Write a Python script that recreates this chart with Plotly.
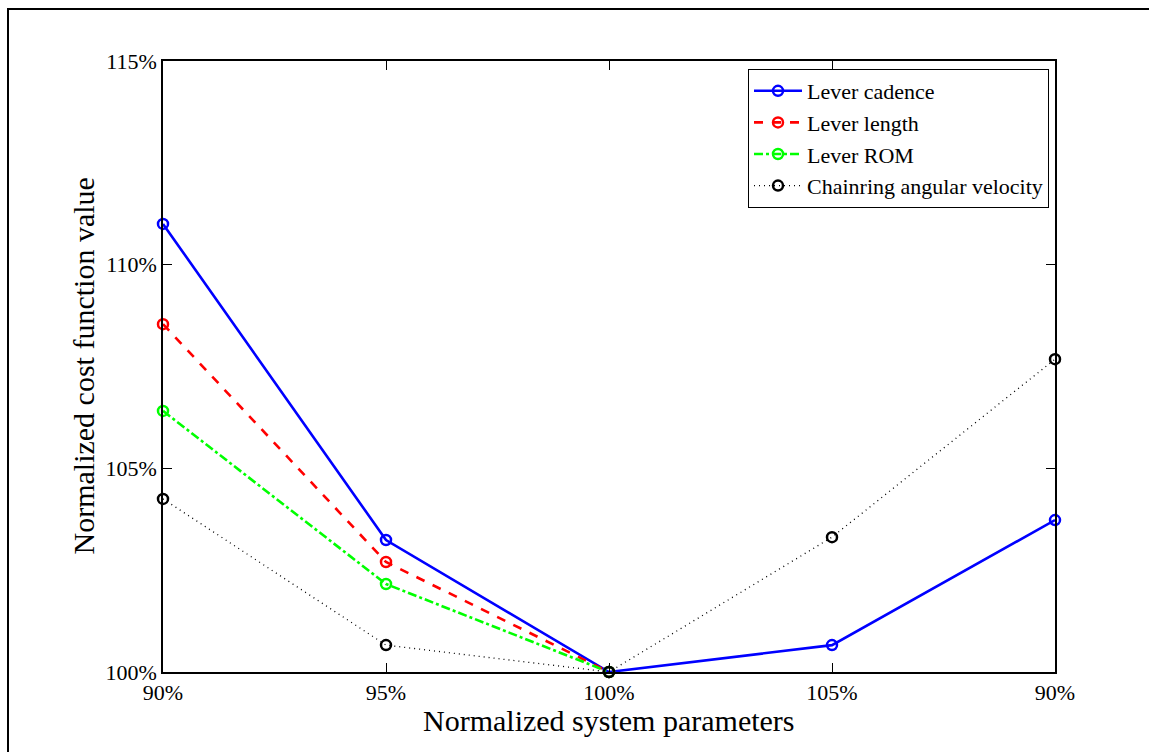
import plotly.graph_objects as go

x_vals = [90, 95, 100, 105, 110]
x_tick_labels = ["90%", "95%", "100%", "105%", "90%"]
y_tick_vals = [100, 105, 110, 115]
y_tick_labels = ["100%", "105%", "110%", "115%"]

lever_cadence = [111.0, 103.24, 100.0, 100.66, 103.73]
lever_length = [108.54, 102.70, 100.0, None, None]
lever_rom = [106.41, 102.16, 100.0, None, None]
chainring = [104.25, 100.66, 100.0, 103.31, 107.68]

series = [
    ("Lever cadence", lever_cadence, "#0000ff", "solid", 2.6),
    ("Lever length", lever_length, "#ff0000", "dash", 2.6),
    ("Lever ROM", lever_rom, "#00ff00", "dashdot", 2.6),
    ("Chainring angular velocity", chainring, "#000000", "1px,4px", 1.3),
]

fig = go.Figure()
for name, ys, color, dash, w in series:
    fig.add_trace(go.Scatter(
        x=x_vals, y=ys, name=name, mode="lines+markers",
        line=dict(color=color, dash=dash, width=w),
        marker=dict(symbol="circle-open", size=10, color=color, line=dict(width=2.5, color=color)),
        connectgaps=False, cliponaxis=False,
    ))

L, R, T, B = 163, 94, 61, 80
W, H = 1149, 752
pw, ph = W - L - R, H - T - B

fig.update_layout(
    width=W, height=H,
    margin=dict(l=L, r=R, t=T, b=B, pad=0),
    paper_bgcolor="white", plot_bgcolor="white",
    font=dict(family="Liberation Serif, Times New Roman, serif", size=22, color="black"),
    showlegend=True,
    legend=dict(
        x=(1049 - L) / pw, y=(H - B - 69) / ph, xanchor="right", yanchor="top",
        bordercolor="black", borderwidth=1, bgcolor="white",
        font=dict(size=22), tracegroupgap=0, itemwidth=48,
    ),
    xaxis=dict(
        range=[90, 110], tickmode="array", tickvals=x_vals, ticktext=x_tick_labels,
        ticks="inside", ticklen=9, tickcolor="black", tickwidth=1,
        showline=True, linecolor="black", linewidth=1.5, mirror="ticks",
        showgrid=False, zeroline=False,
        tickfont=dict(size=22),
    ),
    yaxis=dict(
        range=[100, 115], tickmode="array", tickvals=y_tick_vals, ticktext=y_tick_labels,
        ticks="inside", ticklen=9, tickcolor="black", tickwidth=1,
        showline=True, linecolor="black", linewidth=1.5, mirror="ticks",
        showgrid=False, zeroline=False,
        tickfont=dict(size=22),
    ),
    annotations=[
        dict(text="Normalized system parameters", xref="paper", yref="paper",
             x=0.5, y=(H - B - 721) / ph, xanchor="center", yanchor="middle",
             showarrow=False, font=dict(size=30)),
        dict(text="Normalized cost function value", xref="paper", yref="paper",
             x=(83 - L) / pw, y=0.5, xanchor="center", yanchor="middle",
             textangle=-90, showarrow=False, font=dict(size=30)),
    ],
    shapes=[dict(
        type="rect", xref="paper", yref="paper",
        x0=(8 - L) / pw, x1=1.3, y0=-0.3, y1=(H - B - 9) / ph,
        line=dict(color="black", width=2), fillcolor="rgba(0,0,0,0)", layer="above",
    )],
)

fig.write_html("out.html")
